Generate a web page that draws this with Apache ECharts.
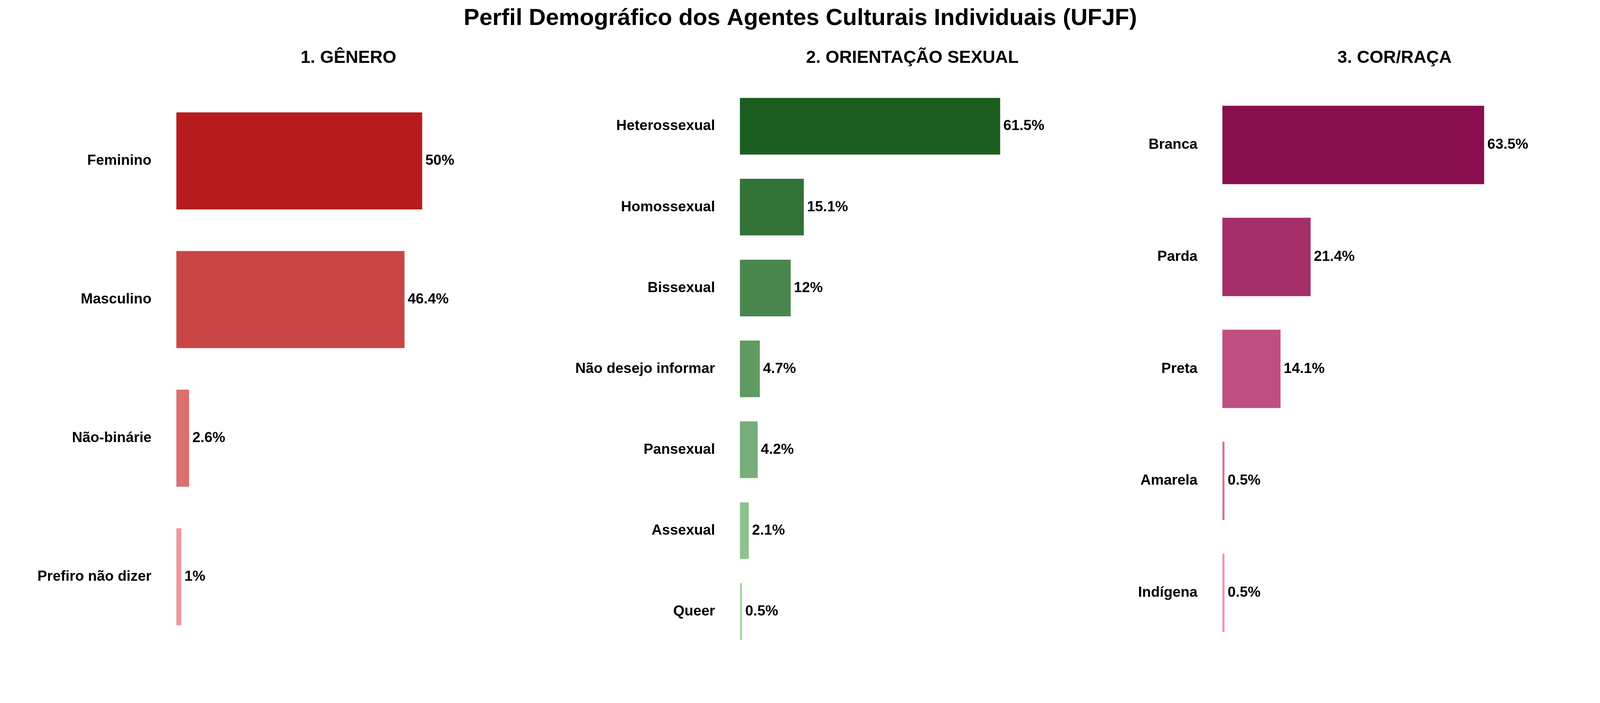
<!DOCTYPE html>
<html lang="pt-BR">
<head>
  <meta charset="UTF-8">
  <title>Perfil Demográfico</title>
  <script src="https://cdn.jsdelivr.net/npm/echarts@6/dist/echarts.min.js"></script>
  <style>html,body{margin:0;padding:0;overflow:hidden;background:#fff}</style>
</head>
<body>
<div id="main" style="width:100vw;height:100vh;"></div>
<script type="text/javascript">

// dados
var generoCats = ['Feminino', 'Masculino', 'Não-binárie', 'Prefiro não dizer'];
var generoVals = [50, 46.4, 2.6, 1];

var orientCats = ['Heterossexual', 'Homossexual', 'Bissexual', 'Não desejo informar', 'Pansexual', 'Assexual', 'Queer'];
var orientVals = [61.5, 15.1, 12, 4.7, 4.2, 2.1, 0.5];

var racaCats = ['Branca', 'Parda', 'Preta', 'Amarela', 'Indígena'];
var racaVals = [63.5, 21.4, 14.1, 0.5, 0.5];

// cores
var vermelhos = ['#B71C1C', '#CA4646', '#DC7070', '#EF9A9A'];
var verdes = ['#1B5E20', '#327236', '#49864D', '#609A63', '#77AE7A', '#8EC290', '#A5D6A7'];
var rosas = ['#880E4F', '#A32E68', '#BE4F80', '#D96F99', '#F48FB1'];

var FONT = '"Liberation Sans", Arial, sans-serif';

var myChart = echarts.init(document.getElementById('main'));
// layout pensado em 4500x1800, escalado para a janela real
var W = myChart.getWidth(), H = myChart.getHeight();
var sx = W / 4500, sy = H / 1800, sf = Math.min(sx, sy);

// área dos painéis (mesma altura para os três)
var PTOP = 199, PBOT = 1690;
var paineis = [
  { titulo: '1. GÊNERO', cats: generoCats, vals: generoVals, cores: vermelhos, left: 496, width: 968 },
  { titulo: '2. ORIENTAÇÃO SEXUAL', cats: orientCats, vals: orientVals, cores: verdes, left: 2081, width: 970 },
  { titulo: '3. COR/RAÇA', cats: racaCats, vals: racaVals, cores: rosas, left: 3438, width: 968 }
];

var grids = [], xAxes = [], yAxes = [], series = [];
var graphics = [{
  type: 'text', x: 2251 * sx, y: 47 * sy,
  style: {
    text: 'Perfil Demográfico dos Agentes Culturais Individuais (UFJF)',
    textAlign: 'center', textVerticalAlign: 'middle',
    font: 'bold ' + Math.round(66 * sf) + 'px ' + FONT, fill: '#000'
  }
}];

paineis.forEach(function (p, i) {
  var n = p.cats.length;
  // espaço extra de 0.6 categoria em cima e embaixo
  var unit = (PBOT - PTOP) / (n + 0.2);
  grids.push({
    left: p.left * sx, width: p.width * sx,
    top: (PTOP + 0.1 * unit) * sy, height: n * unit * sy
  });
  xAxes.push({
    type: 'value', gridIndex: i, min: 0,
    max: function (v) { return v.max + 20; },
    show: false
  });
  yAxes.push({
    type: 'category', gridIndex: i, data: p.cats, inverse: true,
    axisLine: { show: false }, axisTick: { show: false }, splitLine: { show: false },
    axisLabel: { margin: 70 * sx, color: '#000', fontWeight: 'bold', fontSize: Math.round(41 * sf), fontFamily: FONT }
  });
  series.push({
    type: 'bar', xAxisIndex: i, yAxisIndex: i,
    barWidth: '70%',
    data: p.vals.map(function (v, j) {
      return { value: v, itemStyle: { color: p.cores[j] } };
    }),
    label: {
      show: true, position: 'right', distance: 9 * sx,
      color: '#000', fontWeight: 'bold', fontSize: Math.round(41 * sf), fontFamily: FONT,
      formatter: function (d) { return d.value + '%'; }
    },
    silent: true
  });
  graphics.push({
    type: 'text', x: (p.left + p.width / 2) * sx, y: 149 * sy,
    style: {
      text: p.titulo, textAlign: 'center', textVerticalAlign: 'middle',
      font: 'bold ' + Math.round(49 * sf) + 'px ' + FONT, fill: '#000'
    }
  });
});

var option = {
  backgroundColor: '#fff',
  animation: false,
  grid: grids,
  xAxis: xAxes,
  yAxis: yAxes,
  series: series,
  graphic: graphics
};

myChart.setOption(option);

</script>
</body>
</html>
